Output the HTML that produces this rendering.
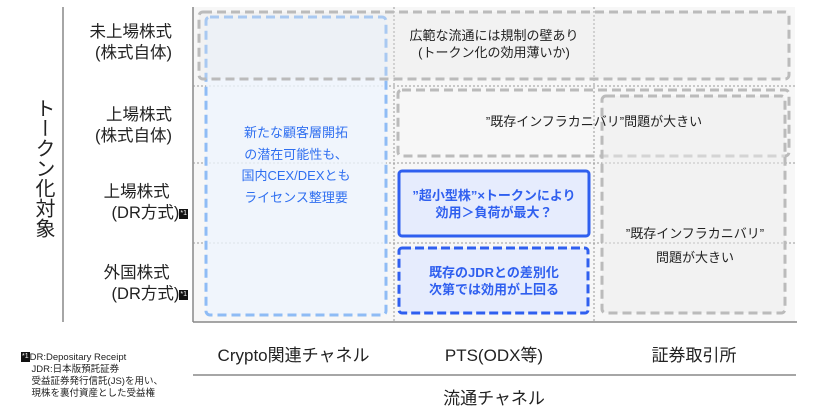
<!DOCTYPE html>
<html><head><meta charset="utf-8"><style>
body{margin:0;width:834px;height:411px;background:#fff;position:relative;overflow:hidden;font-family:"Liberation Sans","Noto Sans CJK JP",sans-serif;color:#222}
.a{position:absolute}
.t{position:absolute;text-align:center;white-space:nowrap}
.b{display:inline-block;background:#111;color:#fff;font-size:7px;line-height:10px;padding:0 1px;vertical-align:middle}
</style></head><body>
<svg class="a" style="left:0;top:0" width="834" height="411">
<rect x="193" y="7" width="602" height="315" fill="#f7f7f7"/>
<line x1="63" y1="7" x2="63" y2="322" stroke="#888" stroke-width="1.5"/>
<line x1="193" y1="7" x2="193" y2="322" stroke="#888" stroke-width="1.5"/>
<line x1="193" y1="322" x2="797" y2="322" stroke="#888" stroke-width="1.5"/>
<g stroke="#999" stroke-width="1" stroke-dasharray="2,2">
<line x1="394" y1="7" x2="394" y2="322"/><line x1="594" y1="7" x2="594" y2="322"/>
<line x1="193" y1="86" x2="797" y2="86"/><line x1="193" y1="163" x2="797" y2="163"/><line x1="193" y1="243" x2="797" y2="243"/>
</g>
<rect x="206" y="17" width="180" height="298" rx="4" fill="#eef4fc" fill-opacity="0.8" stroke="#8fbcf5" stroke-width="3" stroke-dasharray="9,5"/>
<rect x="199" y="12" width="590" height="67" rx="4" fill="#e8e8e8" fill-opacity="0.3" stroke="#bbb" stroke-width="3" stroke-dasharray="9,5"/>
<rect x="398" y="90" width="391" height="66" rx="4" fill="none" stroke="#bbb" stroke-width="3" stroke-dasharray="9,5"/>
<rect x="602" y="96" width="183" height="217" rx="4" fill="#eee" fill-opacity="0.5" stroke="#bbb" stroke-width="3" stroke-dasharray="9,5"/>
<rect x="399" y="171" width="190" height="65" rx="3" fill="#e6ecfd" stroke="#2f5fef" stroke-width="3"/>
<rect x="399" y="248" width="189" height="65" rx="3" fill="#e6ecfd" stroke="#2f5fef" stroke-width="3" stroke-dasharray="9,4"/>
<line x1="193" y1="375" x2="796" y2="375" stroke="#888" stroke-width="1.5"/>
</svg>
<div class="t" style="left:20px;top:98px;width:34px;font-size:20px;line-height:23px;white-space:normal;writing-mode:vertical-rl">トークン化対象</div>
<div class="t" style="left:66px;top:22px;width:106px;text-align:right;font-size:16.5px;line-height:21px">未上場株式<br>(株式自体)</div>
<div class="t" style="left:66px;top:105px;width:106px;text-align:right;font-size:16.5px;line-height:21px">上場株式<br>(株式自体)</div>
<div class="t" style="left:66px;top:182px;width:122px;text-align:right;font-size:16.5px;line-height:21px">上場株式&nbsp;&nbsp;&nbsp;&nbsp;<br>(DR方式)<span class="b">*1</span></div>
<div class="t" style="left:66px;top:263px;width:122px;text-align:right;font-size:16.5px;line-height:21px">外国株式&nbsp;&nbsp;&nbsp;&nbsp;<br>(DR方式)<span class="b">*1</span></div>
<div class="t" style="left:206px;top:122px;width:180px;font-size:13px;line-height:21.5px;color:#2f6ff0">新たな顧客層開拓<br>の潜在可能性も、<br>国内CEX/DEXとも<br>ライセンス整理要</div>
<div class="t" style="left:394px;top:27px;width:200px;font-size:13px;line-height:17px">広範な流通には規制の壁あり<br>(トークン化の効用薄いか)</div>
<div class="t" style="left:394px;top:113px;width:400px;font-size:13px;line-height:17px">”既存インフラカニバリ”問題が大きい</div>
<div class="t" style="left:600px;top:222px;width:190px;font-size:13px;line-height:24px">”既存インフラカニバリ”<br>問題が大きい</div>
<div class="t" style="left:399px;top:187px;width:190px;font-size:13px;line-height:17px;font-weight:bold;color:#2f5fef">”超小型株”×トークンにより<br>効用＞負荷が最大？</div>
<div class="t" style="left:399px;top:264px;width:190px;font-size:13px;line-height:17px;font-weight:bold;color:#2f5fef">既存のJDRとの差別化<br>次第では効用が上回る</div>
<div class="t" style="left:193px;top:341px;width:201px;font-size:17px">Crypto関連チャネル</div>
<div class="t" style="left:394px;top:341px;width:200px;font-size:17px">PTS(ODX等)</div>
<div class="t" style="left:594px;top:341px;width:200px;font-size:17px">証券取引所</div>
<div class="t" style="left:193px;top:384px;width:602px;font-size:17px">流通チャネル</div>
<div class="a" style="left:21px;top:352px;font-size:9.5px;line-height:12px;white-space:nowrap"><span class="b">*1</span>DR:Depositary Receipt<br>&nbsp;&nbsp;&nbsp;&nbsp;JDR:日本版預託証券<br>&nbsp;&nbsp;&nbsp;&nbsp;受益証券発行信託(JS)を用い、<br>&nbsp;&nbsp;&nbsp;&nbsp;現株を裏付資産とした受益権</div>
</body></html>
